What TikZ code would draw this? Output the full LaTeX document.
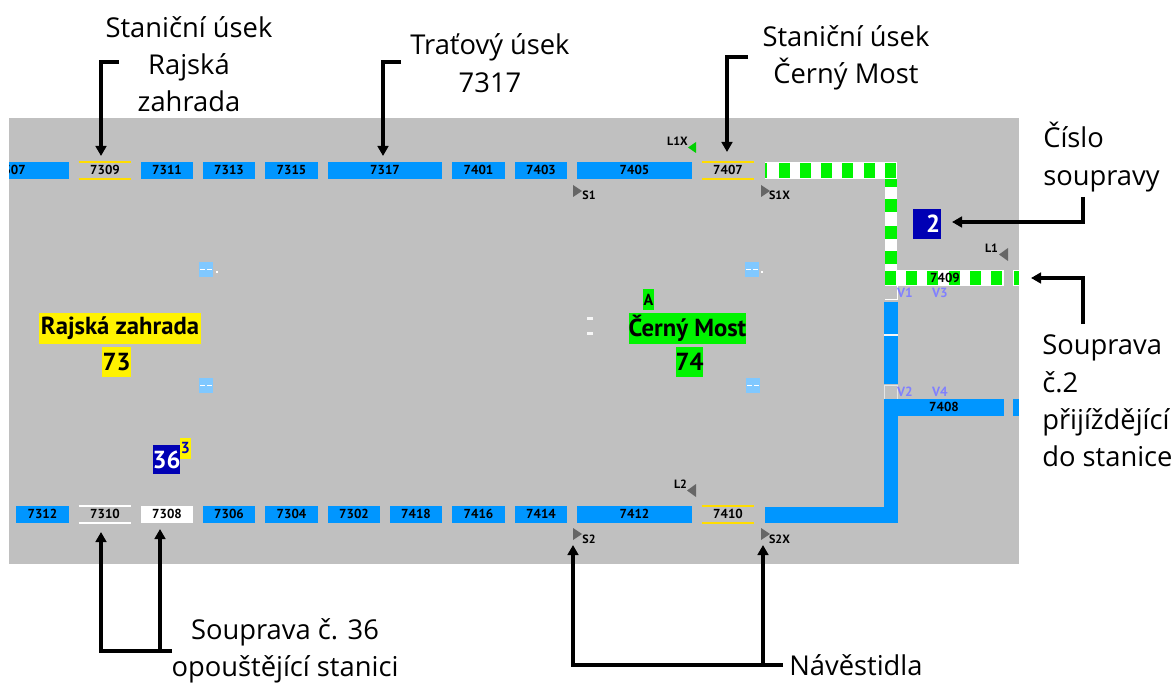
\documentclass[tikz,border=0pt]{standalone}
\usepackage{fontspec}
\setmainfont{Open Sans}
\newfontfamily\boardfont{PT Sans}
\usetikzlibrary{arrows.meta}
\definecolor{panelgray}{HTML}{C0C0C0}
\definecolor{trackblue}{HTML}{0096FF}
\definecolor{trackgreen}{HTML}{00F400}
\definecolor{sectionyellow}{HTML}{FFDD00}
\definecolor{trainblue}{HTML}{0000B4}
\definecolor{switchblue}{HTML}{80C8FF}
\definecolor{pointviolet}{HTML}{8080FF}
\definecolor{signalgray}{HTML}{666666}
\tikzset{
  blockbox/.style={inner sep=0pt, minimum height=12.75pt, text=black, text height=6.6pt, text depth=0pt,
    font=\boardfont\bfseries\fontsize{9.8}{10}\selectfont},
  note/.style={inner sep=0pt, align=center, text=black, font=\fontsize{20.5}{28}\selectfont},
  stationbox/.style={inner sep=0pt, minimum height=23pt, text=black,
    font=\boardfont\bfseries\fontsize{18.5}{18.5}\selectfont},
  signaltext/.style={inner sep=0pt, text=black, font=\boardfont\bfseries\fontsize{9}{9}\selectfont},
  pointtext/.style={inner sep=0pt, text=pointviolet, font=\boardfont\bfseries\fontsize{10}{10}\selectfont},
  pointer/.style={draw=black, line width=2.3pt, -{Triangle[length=7.5pt,width=8pt]}},
}
\begin{document}
\begin{tikzpicture}[x=0.75pt, y=-0.75pt]
\useasboundingbox (0,0) rectangle (1174,684);

% Grey panel
\fill[panelgray] (9,118) rectangle (1019,564);

% Blue blocks, top and bottom row
\foreach \xa/\xb/\lbl in {79/131/7309,141/193/7311,203/255/7313,265/318/7315,328/442/7317,452/505/7401,515/567/7403,577/692/7405,702/754/7407}{
  \pgfmathtruncatemacro{\isfree}{\lbl==7309 || \lbl==7407}
  \ifnum\isfree=1
    \node[blockbox, minimum width={(\xb-\xa)*0.75pt}] (b\lbl) at ({(\xa+\xb)/2},170.5) {\lbl};
  \else
    \node[blockbox, fill=trackblue, minimum width={(\xb-\xa)*0.75pt}] (b\lbl) at ({(\xa+\xb)/2},170.5) {\lbl};
  \fi
}
\foreach \xa/\xb/\lbl in {16/69/7312,79/131/7310,203/255/7306,265/318/7304,328/380/7302,390/442/7418,452/505/7416,515/567/7414,577/692/7412,702/754/7410}{
  \pgfmathtruncatemacro{\isfree}{\lbl==7310 || \lbl==7410}
  \ifnum\isfree=1
    \node[blockbox, minimum width={(\xb-\xa)*0.75pt}] (b\lbl) at ({(\xa+\xb)/2},514.5) {\lbl};
  \else
    \node[blockbox, fill=trackblue, minimum width={(\xb-\xa)*0.75pt}] (b\lbl) at ({(\xa+\xb)/2},514.5) {\lbl};
  \fi
}
\node[blockbox, fill=white, minimum width=39pt] (b7308) at (167,514.5) {7308};

% Cut block on the left edge
\fill[trackblue] (9,162) rectangle (69,179);
\begin{scope}
  \clip (9,118) rectangle (1019,564);
  \node[blockbox] (b7307) at (11,170.5) {7307};
\end{scope}

% Lines over and under free sections
\foreach \lbl/\col in {7309/sectionyellow,7407/sectionyellow,7410/sectionyellow,7310/white}{
  \draw[\col, line width=1.5pt] (b\lbl.north west) -- (b\lbl.north east);
  \draw[\col, line width=1.5pt] (b\lbl.south west) -- (b\lbl.south east);
}

% Occupied route with the green dashes
\fill[white] (765,162) rectangle (897,179);
\fill[white] (885,179) rectangle (897,286);
\fill[white] (885,270) rectangle (1004,286);
\fill[white] (1013,270) rectangle (1019,286);
\foreach \x in {779,800,821,842,864,885}{
  \fill[trackgreen] (\x,163) rectangle ++(10.5,15);
}
\fill[trackgreen] (765,163) rectangle (767,178);
\foreach \y/\h in {179/8,199/13,226/13,251/13}{
  \fill[trackgreen] (885,\y) rectangle ++(12,\h);
}
\foreach \x in {885,906,927,949,970,991}{
  \fill[trackgreen] (\x,271) rectangle ++(10.5,14.5);
}
\fill[trackgreen] (1014,271) rectangle (1019,285.5);
\node[blockbox] (b7409) at (945,278) {7409};

% Free route in blue
\fill[trackblue] (765,507) rectangle (898,523);
\fill[trackblue] (884,302) rectangle (898,334);
\fill[trackblue] (884,336) rectangle (898,384);
\fill[trackblue] (884,399) rectangle (898,523);
\fill[trackblue] (1013,399) rectangle (1019,416);
\node[blockbox, fill=trackblue, minimum width=90pt] (b7408) at (944,407.5) {7408};
\draw[white, line width=0.6pt] (897.5,286) -- (897.5,299) -- (885,299);
\draw[white!85!panelgray, line width=0.8pt] (884,335) -- (898,335);
\draw[white!60!panelgray, line width=0.6pt] (884.5,399) -- (884.5,385) -- (897.5,385) -- (897.5,399);

% Point labels
\foreach \nm/\x/\y in {V1/905/293,V3/940/293,V2/905/392,V4/940/392}{
  \node[pointtext] (p\nm) at (\x,\y) {\nm};
}

% Signals
\foreach \x/\y in {573/185,761/185,573/528,761/528}{
  \fill[signalgray] (\x,\y) -- (\x,\y+12) -- (\x+9,\y+6) -- cycle;
}
\foreach \x/\y in {696/484,1008/248}{
  \fill[signalgray] (\x,\y) -- (\x,\y+13) -- (\x-9,\y+6.5) -- cycle;
}
\fill[trackgreen!85!black] (696,142) -- (696,153) -- (688,147.5) -- cycle;
\foreach \nm/\x/\y in {S1/589/195,S1X/779.5/195,S2/589/539,S2X/779.5/539,L1X/677.5/141,L2/680.5/484,L1/991.5/248}{
  \node[signaltext] (s\nm) at (\x,\y) {\nm};
}

% Switch boxes and small marks
\foreach \x/\y in {199/262,199/378,745/262,746/378}{
  \fill[switchblue] (\x,\y) rectangle ++(14,15);
  \draw[white, line width=0.5pt] (\x+1,\y+7) -- ++(5,0) (\x+8,\y+7) -- ++(5,0);
}
\fill[white] (216,271.5) rectangle ++(2,2);
\fill[white] (761,271.5) rectangle ++(2,2);
\fill[white!85!panelgray] (587,317) rectangle (593,320);
\fill[white!85!panelgray] (587,332) rectangle (593,335);

% Stations
\node[stationbox, fill=yellow, minimum width=121.5pt] (stRajska) at (120,328.5) {Rajská zahrada};
\node[stationbox, fill=yellow, minimum width=22pt] (stRajskaNo) at (116.5,362) {73};
\node[stationbox, fill=trackgreen, minimum width=88pt] (stCerny) at (687.5,328.5) {Černý Most};
\node[stationbox, fill=trackgreen, minimum width=20pt] (stCernyNo) at (689.5,362) {74};
\node[inner sep=0pt, fill=trackgreen, minimum width=8pt, minimum height=15.5pt, text=black,
  font=\boardfont\bfseries\fontsize{12}{12}\selectfont] (stCernyA) at (648.5,299.5) {A};

% Train numbers
\node[stationbox, fill=trainblue, text=white, minimum width=21pt, minimum height=22.5pt] (tr2) at (927,224) {\hspace*{9pt}2};
\node[stationbox, fill=trainblue, text=white, minimum width=20pt, minimum height=22pt] (tr36) at (166.5,459.5) {36};
\node[inner sep=0pt, fill=yellow, text=trainblue, minimum width=8pt, minimum height=15.5pt,
  font=\boardfont\bfseries\fontsize{12}{12}\selectfont] (tr36idx) at (185.5,448.5) {3};

% Notes
\node[note] (noteRajska) at (189,64) {Staniční úsek\\Rajská\\zahrada};
\node[note] (noteTrat) at (490,63) {Traťový úsek\\7317};
\node[note] (noteCerny) at (846,58) {Staniční úsek\\Černý Most};
\node[note, align=left, anchor=west] (noteCislo) at (1043,157) {Číslo\\soupravy};
\node[note, align=left, anchor=west] (noteVlak) at (1042,401) {Souprava\\č.2\\přijíždějící\\do stanice};
\node[note] (noteVlak36) at (285,651) {Souprava č. 36\\opouštějící stanici};
\node[note, anchor=west] (noteNav) at (789,665) {Návěstidla};

% Arrows
\coordinate (tipRajska) at (101,156);
\coordinate (tipTrat) at (383,156);
\coordinate (tipCerny) at (727,152);
\coordinate (tipTrain) at (952,222);
\coordinate (tipRoute) at (1031,278);
\coordinate (tip7310) at (101,532);
\coordinate (tip7308) at (160,529);
\coordinate (tipS2) at (573,545);
\coordinate (tipS2X) at (763,545);
\coordinate (joint36) at (160,651);
\coordinate (jointNav) at (763,665);

\draw[pointer] (119,62) -- (101,62) -- (tipRajska);
\draw[pointer] (401,62) -- (383,62) -- (tipTrat);
\draw[pointer] (748,57) -- (727,57) -- (tipCerny);
\draw[pointer] (1083,197) -- (1083,222) -- (tipTrain);
\draw[pointer] (1083,324) -- (1083,278) -- (tipRoute);
\draw[pointer] (172,651) -- (101,651) -- (tip7310);
\draw[pointer] (joint36) -- (tip7308);
\draw[pointer] (783,665) -- (573,665) -- (tipS2);
\draw[pointer] (jointNav) -- (tipS2X);

\end{tikzpicture}
\end{document}
